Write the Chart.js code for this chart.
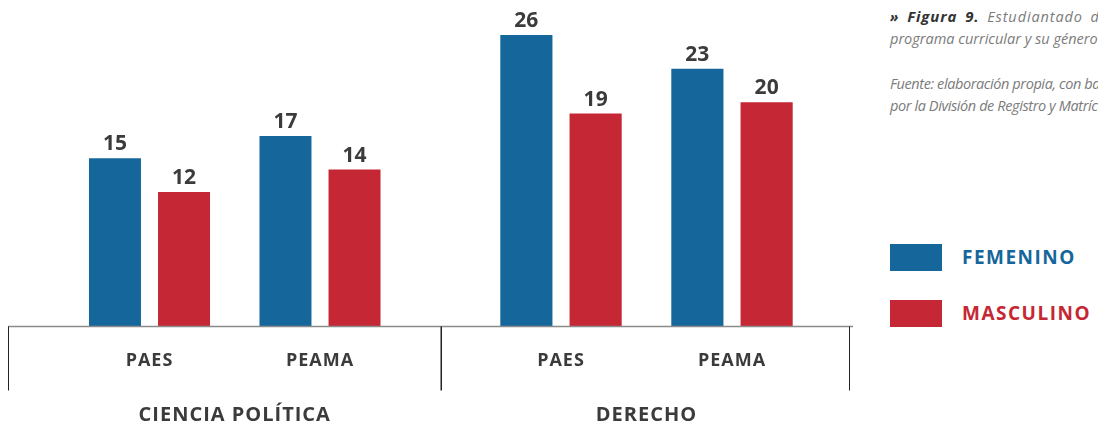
<!DOCTYPE html>
<html>
<head>
<meta charset="utf-8">
<script src="https://cdn.jsdelivr.net/npm/chart.js@4"></script>
<style>
  html, body { margin: 0; padding: 0; background: #fff; }
  body { width: 1098px; height: 429px; position: relative; overflow: hidden; font-family: "Open Sans", sans-serif; }
  .chart-box { position: absolute; top: 0; height: 429px; }
  #caption { position: absolute; left: 890px; top: 5px; width: 260px; color: #7b7b7b; font-style: italic; font-size: 14.5px; line-height: 22px; white-space: nowrap; }
  #caption .first { letter-spacing: 0.9px; word-spacing: 3px; }
  #caption .src { letter-spacing: -0.4px; }
  #caption .fig { color: #333; font-weight: 700; font-size: 15px; }
  #caption .gap { height: 23px; }
  .legend-item { position: absolute; left: 890px; height: 27px; }
  .legend-item .swatch { position: absolute; left: 0; top: 0; width: 52px; height: 27px; }
  .legend-item .name { position: absolute; left: 72px; top: 0; line-height: 27px; font-weight: 700; font-size: 19px; letter-spacing: 1.5px; white-space: nowrap; }
</style>
</head>
<body>

<div class="chart-box" style="left:0;width:441px"><canvas id="chart-cp" width="441" height="429"></canvas></div>
<div class="chart-box" style="left:441px;width:420px"><canvas id="chart-der" width="420" height="429"></canvas></div>

<div id="caption">
  <div class="first"><span class="fig">» Figura 9.</span> Estudiantado de</div>
  <div>programa curricular y su género</div>
  <div class="gap"></div>
  <div class="src">Fuente: elaboración propia, con base</div>
  <div class="src">por la División de Registro y Matrícula</div>
</div>

<div id="legend"></div>

<script>
// data
const groups = ['CIENCIA POLÍTICA', 'DERECHO'];
const programs = ['PAES', 'PEAMA'];
const seriesNames = ['FEMENINO', 'MASCULINO'];
const femenino = [15, 17, 26, 23];   // CP PAES, CP PEAMA, DER PAES, DER PEAMA
const masculino = [12, 14, 19, 20];
const yMax = 29;

const BLUE = '#15669b';
const RED = '#c52834';
const TEXT = '#3b3b3b';
const seriesColors = [BLUE, RED];

// legend (html)
const legend = document.getElementById('legend');
seriesNames.forEach((name, i) => {
    const item = document.createElement('div');
    item.className = 'legend-item';
    item.style.top = (244 + i * 56) + 'px';
    item.innerHTML = '<div class="swatch" style="background:' + seriesColors[i] + '"></div>' +
        '<div class="name" style="color:' + seriesColors[i] + '">' + name + '</div>';
    legend.appendChild(item);
});

// draws value labels, baseline, separators, program and group labels
function decorPlugin(groupName, lineFrom, lineTo, seps) {
    return {
        id: 'decor',
        afterDatasetsDraw(chart) {
            const ctx = chart.ctx;
            const x = chart.scales.x;
            const y = chart.scales.y;
            const base = y.getPixelForValue(0);
            ctx.save();

            // value labels
            ctx.fillStyle = TEXT;
            ctx.font = 'bold 21px "Open Sans"';
            ctx.textAlign = 'center';
            ctx.textBaseline = 'alphabetic';
            chart.data.datasets.forEach((ds, di) => {
                chart.getDatasetMeta(di).data.forEach((bar, i) => {
                    ctx.fillText(String(ds.data[i]), bar.x, bar.y - 8);
                });
            });

            // baseline
            ctx.strokeStyle = '#8a8a8a';
            ctx.lineWidth = 1.5;
            ctx.beginPath();
            ctx.moveTo(lineFrom, base);
            ctx.lineTo(lineTo, base);
            ctx.stroke();

            // separators
            ctx.strokeStyle = '#222';
            ctx.lineWidth = 1;
            seps.forEach(sx => {
                ctx.beginPath();
                ctx.moveTo(sx, base);
                ctx.lineTo(sx, base + 64);
                ctx.stroke();
            });

            // program labels
            ctx.textBaseline = 'middle';
            ctx.font = 'bold 18px "Open Sans"';
            ctx.letterSpacing = '1px';
            chart.data.labels.forEach((lab, i) => {
                ctx.fillText(lab, x.getPixelForValue(i), base + 34);
            });

            // group label
            ctx.font = 'bold 20px "Open Sans"';
            ctx.letterSpacing = '1px';
            const mid = (x.getPixelForValue(0) + x.getPixelForValue(1)) / 2;
            ctx.fillText(groupName, mid, base + 89);
            ctx.restore();
        }
    };
}

function makeChart(canvasId, gi, padding, lineFrom, lineTo, seps) {
    const from = gi * programs.length;
    const to = from + programs.length;
    return new Chart(document.getElementById(canvasId), {
        type: 'bar',
        data: {
            labels: programs,
            datasets: [
                { label: seriesNames[0], data: femenino.slice(from, to), backgroundColor: BLUE },
                { label: seriesNames[1], data: masculino.slice(from, to), backgroundColor: RED }
            ]
        },
        options: {
            responsive: false,
            animation: false,
            devicePixelRatio: 1,
            layout: { padding: padding },
            categoryPercentage: 0.81,
            barPercentage: 0.753,
            scales: {
                x: { display: false },
                y: { display: false, min: 0, max: yMax }
            },
            plugins: { legend: { display: false }, tooltip: { enabled: false } }
        },
        plugins: [decorPlugin(groups[gi], lineFrom, lineTo, seps)]
    });
}

makeChart('chart-cp', 0, { left: 64.25, right: 35.75, top: 1.4, bottom: 102.5 }, 8, 441, [8.5, 441]);
makeChart('chart-der', 1, { left: 34.5, right: 43.5, top: 1.4, bottom: 102.5 }, 0, 412, [0.5, 408.5]);
</script>
</body>
</html>
